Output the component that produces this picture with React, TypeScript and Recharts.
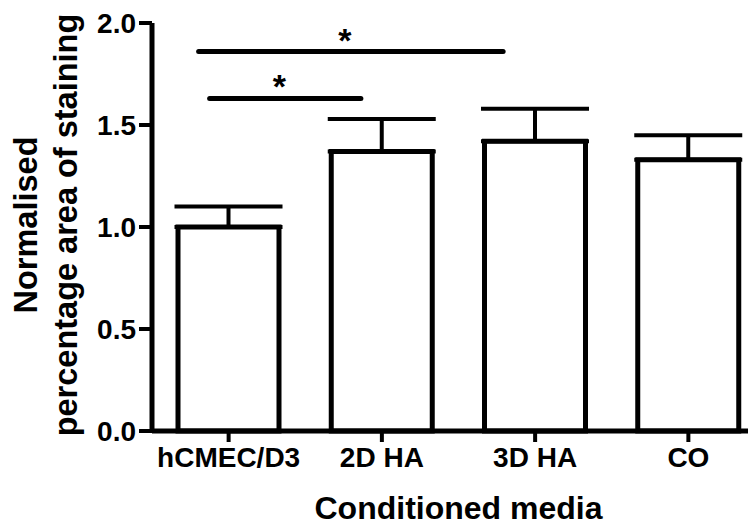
import { BarChart, Bar, XAxis, YAxis, ErrorBar, ReferenceLine, Label } from "recharts";

const MEDIA = ["hCMEC/D3", "2D HA", "3D HA", "CO"];
const MEAN_VALUES = [1.0, 1.37, 1.42, 1.33];
const SEM_VALUES = [0.1, 0.16, 0.16, 0.12];
const Y_TICKS = [0, 0.5, 1.0, 1.5, 2.0];

// significance brackets: from -> to, at height, with mark
const SIG_FROM = ["hCMEC/D3", "hCMEC/D3"];
const SIG_TO = ["3D HA", "2D HA"];
const SIG_LEVELS = [1.86, 1.63];
const SIG_MARKS = ["*", "*"];

// the brackets start/end a bit left of the bar centres (px)
const SIG_SHIFTS = [
  [-30, -32],
  [-19, -21],
];

const FONT = "'Liberation Sans', Arial, Helvetica, sans-serif";

const data = MEDIA.map((media, i) => ({
  media,
  mean: MEAN_VALUES[i],
  sem: [0, SEM_VALUES[i]],
}));

function sigShape(mark: string, shift: number[]) {
  return (props: any) => {
    const { x1, y1, x2, y2 } = props;
    const a = x1 + shift[0];
    const b = x2 + shift[1];
    return (
      <g>
        <line x1={a} y1={y1} x2={b} y2={y2} stroke="#000" strokeWidth={5} strokeLinecap="round" />
        <text
          x={(a + b) / 2 - 6}
          y={y1}
          textAnchor="middle"
          fontSize={34}
          fontWeight="bold"
          fontFamily={FONT}
          fill="#000"
        >
          {mark}
        </text>
      </g>
    );
  };
}

function YTitle(props: any) {
  const { x, y, height } = props.viewBox;
  const cy = y + height / 2 - 2;
  const textProps = {
    textAnchor: "middle" as const,
    fontSize: 32.5,
    fontWeight: "bold",
    fontFamily: FONT,
    fill: "#000",
  };
  return (
    <g>
      <text x={x + 29} y={cy} transform={`rotate(-90, ${x + 29}, ${cy})`} {...textProps}>
        Normalised
      </text>
      <text x={x + 69} y={cy} transform={`rotate(-90, ${x + 69}, ${cy})`} {...textProps}>
        percentage area of staining
      </text>
    </g>
  );
}

function XTitle(props: any) {
  const { x, y, width } = props.viewBox;
  return (
    <text
      x={x + width / 2}
      y={y + 88}
      textAnchor="middle"
      fontSize={32}
      fontWeight="bold"
      fontFamily={FONT}
      fill="#000"
    >
      Conditioned media
    </text>
  );
}

const tickStyle = { fill: "#000", fontSize: 28, fontWeight: "bold", fontFamily: FONT };

export default function App() {
  return (
    <div style={{ width: 748, height: 520, overflow: "hidden" }}>
      <BarChart
        width={780}
        height={520}
        data={data}
        margin={{ top: 15, right: 23, bottom: 0, left: 0 }}
      >
        <XAxis
          dataKey="media"
          height={97}
          interval={0}
          axisLine={{ stroke: "#000", strokeWidth: 5 }}
          tickLine={{ stroke: "#000", strokeWidth: 4 }}
          tickSize={11}
          tickMargin={5}
          tick={tickStyle}
        >
          <Label content={<XTitle />} />
        </XAxis>
        <YAxis
          domain={[0, 2]}
          ticks={Y_TICKS}
          interval={0}
          width={144}
          tickFormatter={(v: number) => v.toFixed(1)}
          axisLine={{ stroke: "#000", strokeWidth: 5 }}
          tickLine={{ stroke: "#000", strokeWidth: 4 }}
          tickSize={13}
          tickMargin={3}
          tick={tickStyle}
        >
          <Label content={<YTitle />} />
        </YAxis>
        <Bar
          dataKey="mean"
          fill="#fff"
          stroke="#000"
          strokeWidth={5}
          barSize={101}
          isAnimationActive={false}
        >
          <ErrorBar
            dataKey="sem"
            direction="y"
            width={54}
            stroke="#000"
            strokeWidth={4}
            isAnimationActive={false}
          />
        </Bar>
        {SIG_LEVELS.map((level, i) => (
          <ReferenceLine
            key={i}
            segment={[
              { x: SIG_FROM[i], y: level },
              { x: SIG_TO[i], y: level },
            ]}
            ifOverflow="visible"
            shape={sigShape(SIG_MARKS[i], SIG_SHIFTS[i])}
          />
        ))}
      </BarChart>
    </div>
  );
}
